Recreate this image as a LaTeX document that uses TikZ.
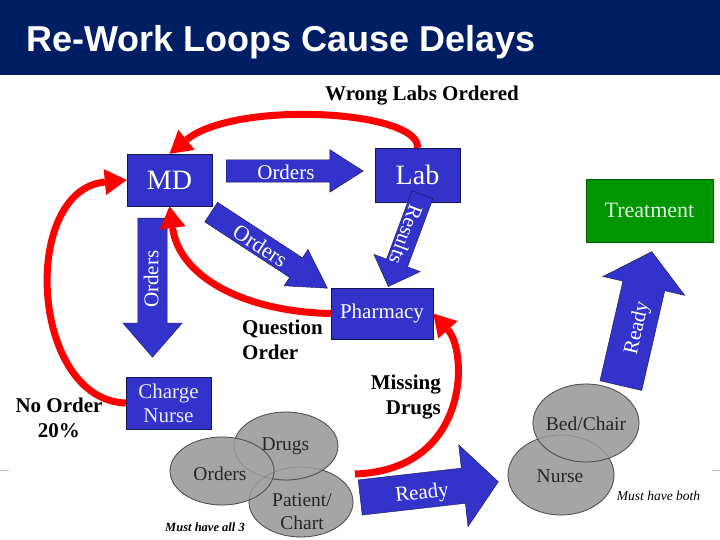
\documentclass[tikz,border=0pt]{standalone}
\usepackage{fontspec}
\setmainfont{Liberation Serif}
\newfontfamily\titlefont{Liberation Sans}
\usetikzlibrary{positioning,arrows.meta,shapes.arrows}

\definecolor{navy}{RGB}{0,30,100}
\definecolor{boxblue}{RGB}{51,51,204}
\definecolor{boxedge}{RGB}{20,20,80}
\definecolor{treatgreen}{RGB}{0,150,0}
\definecolor{loopred}{RGB}{255,0,0}
\definecolor{blobgrey}{RGB}{165,165,165}
\definecolor{blobedge}{RGB}{80,80,80}

\tikzset{
  bluebox/.style={draw=boxedge, fill=boxblue, text=white, inner sep=0pt, align=center, font=\fontsize{21}{24}\selectfont},
  barrow/.style={single arrow, draw=boxedge, fill=boxblue, text=white, anchor=tail,
    font=\fontsize{21}{21}\selectfont, text height=17pt, text depth=0pt, inner xsep=2pt},
  redloop/.style={draw=loopred, line width=7pt, -{Triangle[length=22pt,width=26pt,line width=0pt]}},
  lbl/.style={font=\fontsize{21}{25}\selectfont\bfseries, inner sep=0pt},
  blobtxt/.style={font=\fontsize{19.5}{23}\selectfont, text=black!85, inner sep=0pt, align=center},
  blob/.style={fill=blobgrey, draw=blobedge, line width=0.8pt},
}

\begin{document}
\begin{tikzpicture}[x=1pt,y=-1pt]
\useasboundingbox (0,0) rectangle (720,540);
\fill[white] (0,0) rectangle (720,540);

% title bar
\fill[navy] (0,0) rectangle (720,75);
\node[anchor=base west, inner sep=0pt, text=white, font=\titlefont\bfseries\fontsize{36}{36}\selectfont] (title) at (26,52) {Re-Work Loops Cause Delays};
\draw[black!25, line width=1pt] (0,470) -- (9,470);
\draw[black!25, line width=1pt] (712,470) -- (720,470);

% circles
\foreach \cx/\cy/\rx/\ry in {301/502/52/35, 286/446/52/34, 222/471/52/34, 561/475/53/40, 586/423/53/39}
  \filldraw[blob] (\cx,\cy) ellipse [x radius=\rx pt, y radius=\ry pt];
\foreach \cx/\cy/\rx/\ry in {301/502/52/35, 286/446/52/34, 222/471/52/34, 561/475/53/40, 586/423/53/39}
  \draw[blobedge, opacity=.35, line width=0.6pt] (\cx,\cy) ellipse [x radius=\rx pt, y radius=\ry pt];
\node[blobtxt, anchor=base] (drugs) at (285.5,450) {Drugs};
\node[blobtxt, anchor=base] (orders) at (220,480) {Orders};
\node[blobtxt, anchor=north] (patient) at (302,493) {Patient/\\Chart};
\node[blobtxt, anchor=base] (bed) at (586,430) {Bed/Chair};
\node[blobtxt, anchor=base] (nurse) at (560,482) {Nurse};

% boxes
\node[bluebox, minimum width=85pt, minimum height=52pt, font=\fontsize{28}{28}\selectfont] (MD) at (169.5,180) {MD};
\node[bluebox, minimum width=85pt, minimum height=54pt, font=\fontsize{28}{28}\selectfont] (Lab) at (417.5,175) {Lab};
\node[bluebox, minimum width=102pt, minimum height=51pt] (Pharm) at (382,313.5) {Pharmacy};
\node[bluebox, minimum width=85pt, minimum height=52pt, text=white!90!boxblue] (CN) at (168.5,403) {Charge\\Nurse};
\node[bluebox, fill=treatgreen, draw=treatgreen!60!black, minimum width=127pt, minimum height=63pt, text=white!90!treatgreen, font=\fontsize{22}{22}\selectfont] (Treat) at (649.5,210.5) {Treatment};

% block arrows
\node[barrow, minimum height=137pt, inner ysep=2.5pt, single arrow head extend=10pt, single arrow tip angle=65] (ordlab) at (226,171) {Orders};
\node[barrow, rotate=-90, minimum height=139pt, inner ysep=6pt, single arrow head extend=15pt, single arrow tip angle=82] (ordcn) at (152.5,218) {\rotatebox[origin=c]{180}{Orders}};
\node[barrow, rotate=-33.2, minimum height=139pt, inner ysep=3pt, single arrow head extend=10pt, single arrow tip angle=60, font=\fontsize{22}{22}\selectfont] (ordph) at (211,212) {Orders};
\node[barrow, rotate=-110.4, minimum height=98pt, inner ysep=2.5pt, single arrow head extend=13.5pt, single arrow tip angle=89] (res) at (422.5,194.5) {Results};
\node[barrow, rotate=6.5, minimum height=139pt, inner ysep=9pt, single arrow head extend=23.5pt, single arrow tip angle=99] (rdybed) at (360,497.5) {Ready};
\node[barrow, rotate=77, minimum height=137.5pt, inner ysep=12.75pt, single arrow head extend=20.5pt, single arrow tip angle=100] (rdytreat) at (620.8,385.8) {Ready};

% re-work loops
\coordinate (md0) at (355,474);
\draw[redloop] (Lab.north) .. controls (420,110) and (235,100) .. (MD.north);
\draw[redloop] (CN.west) .. controls (30,400) and (20,190) .. (MD.west);
\draw[redloop] (Pharm.west) .. controls (250,312) and (180,280) .. (MD.south);
\draw[redloop] (md0) .. controls (470,470) and (468,352) .. (Pharm.east);

% labels
\node[lbl, anchor=base] (wrong) at (422,101) {Wrong Labs Ordered};
\node[lbl, anchor=north west, align=left] (question) at (242,320) {Question\\Order};
\node[lbl, anchor=north east, align=right] (missing) at (441,375) {Missing\\Drugs};
\node[lbl, anchor=north, align=center] (noorder) at (59,398) {No Order\\20\%};
\node[anchor=base, inner sep=0pt, font=\fontsize{12.5}{14}\selectfont\bfseries\itshape] (all3) at (205,531) {Must have all 3};
\node[anchor=base, inner sep=0pt, font=\fontsize{13.5}{15}\selectfont\itshape] (both) at (658.5,500) {Must have both};
\end{tikzpicture}
\end{document}
